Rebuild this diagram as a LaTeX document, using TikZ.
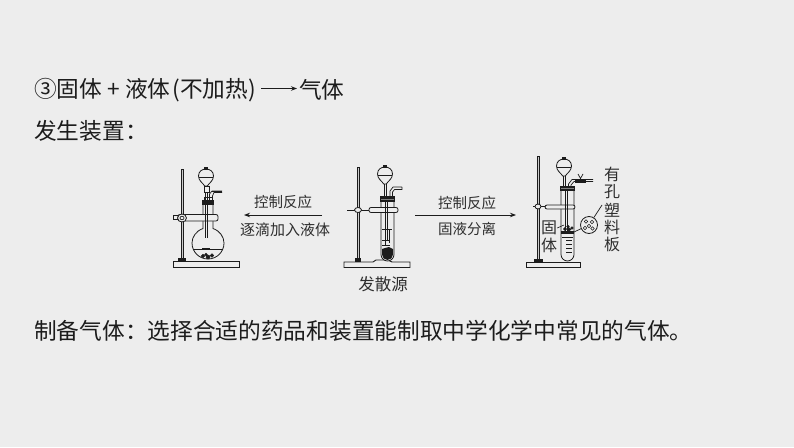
\documentclass[tikz,border=0pt]{standalone}
\usepackage{fontspec}
\setmainfont{Noto Sans CJK SC}
\usetikzlibrary{arrows.meta}
\definecolor{bgc}{HTML}{EDEDED}
\definecolor{ink}{HTML}{1C1C1C}
\definecolor{lab}{HTML}{2E2E2E}
\tikzset{
  bigtext/.style={anchor=west,inner sep=0pt,text=ink,font=\fontsize{22.7}{26}\selectfont},
  smalltext/.style={inner sep=0pt,text=lab,font=\fontsize{14.5}{17}\selectfont},
  vtext/.style={inner sep=0pt,text=lab,font=\fontsize{16}{17}\selectfont},
  glass/.style={draw=ink,line width=0.8pt,fill=bgc},
  thin glass/.style={draw=ink,line width=0.7pt},
  rod/.style={draw=ink,line width=0.7pt,fill=bgc!70!gray},
  blackpart/.style={fill=ink,draw=ink,line width=0.4pt},
  conn/.style={draw=ink,line width=0.9pt,-{Stealth[length=6pt,width=4.5pt]}},
  pics/bulb/.style={code={
    \draw[glass] (-7.5,-1) .. controls (-7.5,-5.5) and (-4,-8) .. (0,-8) .. controls (4,-8) and (7.5,-5.5) .. (7.5,-1)
      .. controls (7.5,4) and (3,6) .. (1.3,9) -- (-1.3,9) .. controls (-3,6) and (-7.5,4) .. (-7.5,-1) -- cycle;
    \draw[thin glass] (-7,0.5) -- (7,0.5);
    \fill[ink] (-1.8,-10.5) rectangle (1.8,-7.5);
  }}
}
\begin{document}
\begin{tikzpicture}[x=1pt,y=-1pt]
\useasboundingbox (0,0) rectangle (794,447);
\fill[bgc] (0,0) rectangle (794,447);

% headings
\node[bigtext] (line1a) at (34,90) {③固体 + 液体\hspace{2pt}(不加热)};
\coordinate (arrS) at (261,88.5);
\coordinate (arrE) at (297,88.5);
\draw[conn] (arrS) -- (arrE);
\node[bigtext] (line1b) at (299,90) {气体};
\node[bigtext] (line2) at (34,131) {发生装置：};
\node[bigtext] (line3) at (34,331) {制备气体：选择合适的药品和装置能制取中学化学中常见的气体。};

% left apparatus
\begin{scope}
  \draw[rod] (181,169) rectangle (183.5,259);
  \draw[glass,line width=0.9pt] (173,261) rectangle (239,267);
  \fill[ink] (178,258) rectangle (186,261);
  % flask
  \draw[glass] (203,204) -- (203,228.5) .. controls (196,231) and (192,237) .. (192,243)
     arc[start angle=180,end angle=0,radius=16]
     .. controls (224,237) and (220,231) .. (213,228.5) -- (213,204);
  \draw[thin glass] (193,249) -- (223,249);
  \fill[ink] (202,248) rectangle (210,250);
  \draw[blackpart] (203,256) circle (1.8) (208,257) circle (2) (212,255.5) circle (1.8) (206,254.5) circle (1.4);
  % stopper
  \fill[ink] (202,200) rectangle (214,205);
  \draw[thin glass] (204,197) rectangle (212,200);
  % clamp
  \draw[glass] (173.5,215.5) rectangle (178,219.5);
  \draw[glass,rounded corners=2pt] (178,214.5) rectangle (218,221);
  \draw[glass] (182,218) ellipse (4.5 and 4);
  \draw[thin glass] (182,218) ellipse (2 and 1.8);
  % funnel
  \pic at (206,177) {bulb};
  \draw[thin glass] (205,186) -- (205,238) (207.5,186) -- (207.5,238);
  \draw[glass] (204,186) rectangle (209,192);
  % tube
  \draw[thin glass] (209.5,204) -- (209.5,194) -- (212,191) -- (222,191);
  \draw[thin glass] (212.5,204) -- (212.5,196) -- (214,192.5) -- (222,192.5);
  \draw[line width=1.6pt,ink] (212,191.6) -- (222,191.6);
\end{scope}

% left arrow
\coordinate (larrS) at (322,215);
\coordinate (larrE) at (244,215);
\draw[conn] (larrS) -- (larrE);
\node[smalltext] (ltop) at (283,202) {控制反应};
\node[smalltext,font=\fontsize{15}{17}\selectfont] (lbot) at (285,230) {逐滴加入液体};

% middle apparatus
\begin{scope}
  \draw[rod] (357,167) rectangle (359.5,259);
  \draw[glass,line width=0.9pt] (344,262) -- (373,262) -- (376,260) -- (388,260) -- (392,262) -- (410,262) -- (410,267.5) -- (344,267.5) -- cycle;
  \fill[ink] (355,258) rectangle (361,262);
  % test tube
  \draw[glass] (381,202) -- (381,254.5) arc[start angle=180,end angle=0,radius=6.5] -- (394,202);
  \fill[ink] (382,249) -- (382,254.5) arc[start angle=180,end angle=0,radius=5.5] -- (393,249) -- (389,247) -- (385,248) -- cycle;
  \draw[thin glass] (382,229) -- (392,229) (382,240) -- (389,240) (389,229) -- (389,243) (382,245) -- (390,245);
  % stopper
  \fill[ink] (380,196) rectangle (395,202);
  \fill[gray] (381,198.5) rectangle (394,199.5);
  % clamp
  \draw[thin glass] (347,210) -- (369,210);
  \draw[glass] (358,210) ellipse (3.5 and 2.5);
  \draw[glass,rounded corners=2pt] (369,207.5) rectangle (398,212.5);
  \draw[thin glass] (385,202) -- (385,245) (387.5,202) -- (387.5,240);
  % funnel
  \pic at (385,175) {bulb};
  \draw[thin glass] (384,184) -- (384,196) (386.5,184) -- (386.5,196);
  % tube
  \draw[thin glass] (390,196) -- (390,191) -- (393,187) -- (402,187) (392.5,196) -- (392.5,192) -- (394.5,189.5) -- (402,189.5) -- (402,187);
\end{scope}

\node[inner sep=0pt,text=lab,font=\fontsize{16.5}{18}\selectfont] (fasan) at (383,284) {发散源};

% right arrow
\coordinate (rarrS) at (415,215);
\coordinate (rarrE) at (516,215);
\draw[conn] (rarrS) -- (rarrE);
\node[smalltext] (rtop) at (467,203) {控制反应};
\node[smalltext] (rbot) at (467,229) {固液分离};

% right apparatus
\begin{scope}
  \draw[rod] (537,156) rectangle (539.5,259);
  \draw[glass,line width=0.9pt] (526,262) rectangle (580,267);
  \fill[ink] (534,258.5) rectangle (543,262);
  % tube
  \draw[glass] (561,191) -- (561,254.5) arc[start angle=180,end angle=0,radius=6.5] -- (574,191);
  \draw[thin glass] (562,237) -- (573,237);
  \draw[thin glass] (566,240) -- (572,240) (566,244) -- (572,244) (566,248) -- (572,248) (566,252) -- (572,252);
  % plate and solid
  \fill[ink] (561,231) rectangle (574,234);
  \draw[blackpart] (565,229) circle (1.6) (569,229.5) circle (1.8) (572,228) circle (1.4) (568,226.5) circle (1.3);
  % stopper
  \fill[ink] (560,186) rectangle (575,191);
  \fill[gray] (561,188) rectangle (574,189);
  % clamp
  \draw[thin glass] (533,206.5) -- (545,206.5);
  \draw[glass] (538,206.5) ellipse (3 and 2.5);
  \draw[glass,rounded corners=2pt] (545,205) rectangle (575,209);
  \draw[thin glass] (565,191) -- (565,234) (567.5,191) -- (567.5,234);
  % funnel
  \pic at (564,167) {bulb};
  \draw[thin glass] (563,176) -- (563,186) (565.5,176) -- (565.5,186);
  % tube and valve
  \draw[thin glass] (568.5,186) -- (568.5,184) -- (572,179.5) -- (593,179.5) (571,186) -- (571,185) -- (574,181.5) -- (593,181.5);
  \fill[ink] (575,178.5) rectangle (586,182.5);
  \draw[thin glass] (578,174) -- (580.5,178.5) -- (583,174);
  % magnifier
  \node[draw=ink,line width=0.8pt,circle,minimum size=17pt,inner sep=0pt] (lens) at (589,225) {};
  \coordinate (plateEnd) at (574,232);
  \coordinate (labelEnd) at (602,205);
  \draw[ink,line width=0.7pt] (lens) -- (plateEnd);
  \draw[ink,line width=0.7pt] (lens) -- (labelEnd);
  \draw[ink,line width=0.6pt] (586,221.5) circle (1.8) (592,222) circle (1.8) (589,226) circle (1.8) (585,228) circle (1.8) (592.5,228.5) circle (1.8);
  \coordinate (solidPt) at (564,225);
\end{scope}
\node[vtext] (gu) at (549,228) {固};
\node[vtext] (ti) at (549,245) {体};
\draw[ink,line width=0.6pt] (gu.east) -- (solidPt);
\node[vtext] (v1) at (612,174) {有};
\node[vtext] (v2) at (612,192) {孔};
\node[vtext] (v3) at (612,210) {塑};
\node[vtext] (v4) at (612,227) {料};
\node[vtext] (v5) at (612,244) {板};
\end{tikzpicture}
\end{document}
